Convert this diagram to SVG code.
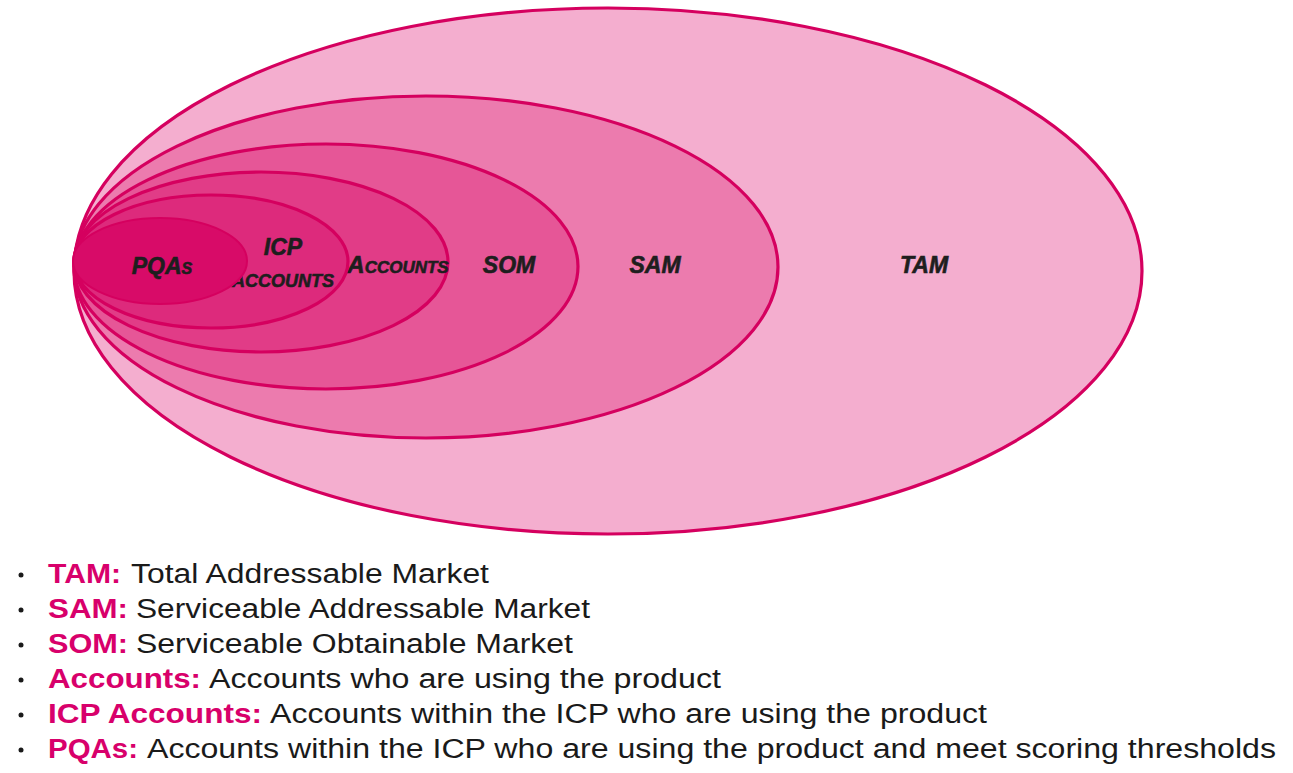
<svg xmlns="http://www.w3.org/2000/svg" width="1293" height="773" viewBox="0 0 1293 773">
<style>
.ring{stroke:#d5005f;stroke-width:3.2}
.lbl{font-family:"Liberation Sans",Arial,sans-serif;font-weight:bold;font-style:italic;font-variant:small-caps;font-size:23px;fill:#1e1e1e;stroke:#1e1e1e;stroke-width:0.6;text-anchor:middle}
.key{font-family:"Liberation Sans",Arial,sans-serif;font-weight:bold;font-size:27px;fill:#d8006b}
.desc{font-family:"Liberation Sans",Arial,sans-serif;font-size:27px;fill:#1a1a1a}
.dot{fill:#1a1a1a}
</style>
<rect width="1293" height="773" fill="#ffffff"/>
<g id="tam"><ellipse class="ring" cx="608" cy="271" rx="534" ry="263" fill="#f4aecf"/><text class="lbl" x="924" y="273">TAM</text></g>
<g id="sam"><ellipse class="ring" cx="426" cy="267" rx="352" ry="171" fill="#ec7bae"/><text class="lbl" x="655" y="273">SAM</text></g>
<g id="som"><ellipse class="ring" cx="326" cy="266.5" rx="252" ry="122.5" fill="#e65697"/><text class="lbl" x="509" y="273">SOM</text></g>
<g id="accounts"><ellipse class="ring" cx="261" cy="262" rx="187" ry="90" fill="#e13c87"/><text class="lbl" x="398" y="273" style="font-size:24px">Accounts</text></g>
<g id="icp"><ellipse class="ring" cx="211" cy="261.5" rx="137" ry="66.5" fill="#dd2a7c"/><text class="lbl" x="283" y="255">ICP</text><text class="lbl" x="283" y="287" style="font-size:25px">accounts</text></g>
<g id="pqas"><ellipse cx="160" cy="261" rx="87" ry="43" fill="#d80b68" stroke="#d5005f" stroke-width="2"/><text class="lbl" x="162" y="274">PQAs</text></g>
<g id="connectors"/>
<g id="legend">
<circle class="dot" cx="21" cy="575" r="2.5"/><text class="key" x="48" y="583" textLength="73" lengthAdjust="spacingAndGlyphs">TAM:</text><text class="desc" x="131" y="583" textLength="358" lengthAdjust="spacingAndGlyphs">Total Addressable Market</text>
<circle class="dot" cx="21" cy="610" r="2.5"/><text class="key" x="48" y="618" textLength="80" lengthAdjust="spacingAndGlyphs">SAM:</text><text class="desc" x="136" y="618" textLength="454" lengthAdjust="spacingAndGlyphs">Serviceable Addressable Market</text>
<circle class="dot" cx="21" cy="645" r="2.5"/><text class="key" x="48" y="653" textLength="80" lengthAdjust="spacingAndGlyphs">SOM:</text><text class="desc" x="136" y="653" textLength="437" lengthAdjust="spacingAndGlyphs">Serviceable Obtainable Market</text>
<circle class="dot" cx="21" cy="680" r="2.5"/><text class="key" x="48" y="688" textLength="153" lengthAdjust="spacingAndGlyphs">Accounts:</text><text class="desc" x="209" y="688" textLength="512" lengthAdjust="spacingAndGlyphs">Accounts who are using the product</text>
<circle class="dot" cx="21" cy="715" r="2.5"/><text class="key" x="48" y="723" textLength="214" lengthAdjust="spacingAndGlyphs">ICP Accounts:</text><text class="desc" x="270" y="723" textLength="717" lengthAdjust="spacingAndGlyphs">Accounts within the ICP who are using the product</text>
<circle class="dot" cx="21" cy="750" r="2.5"/><text class="key" x="48" y="758" textLength="90" lengthAdjust="spacingAndGlyphs">PQAs:</text><text class="desc" x="147" y="758" textLength="1129" lengthAdjust="spacingAndGlyphs">Accounts within the ICP who are using the product and meet scoring thresholds</text>
</g>
</svg>
